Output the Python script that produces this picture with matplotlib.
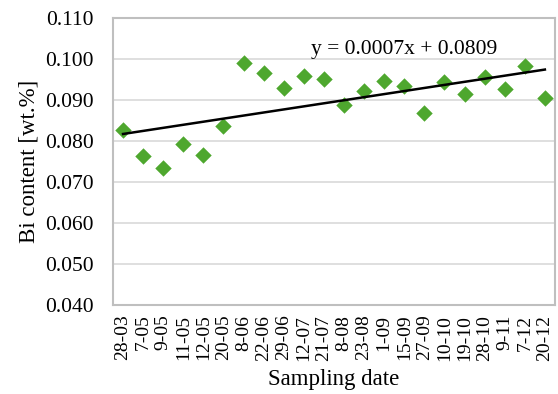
import matplotlib.pyplot as plt
import numpy as np

dates = ['28-03', '7-05', '9-05', '11-05', '12-05', '20-05', '8-06', '22-06',
         '29-06', '12-07', '21-07', '8-08', '23-08', '1-09', '15-09', '27-09',
         '10-10', '19-10', '28-10', '9-11', '7-12', '20-12']
bi = [0.0826, 0.0764, 0.0734, 0.0794, 0.0767, 0.0837, 0.0990, 0.0966,
      0.0929, 0.0959, 0.0951, 0.0888, 0.0923, 0.0947, 0.0935, 0.0868,
      0.0943, 0.0915, 0.0957, 0.0927, 0.0984, 0.0905]

plt.rcParams['font.family'] = 'Liberation Serif'

fig = plt.figure(figsize=(5.58, 3.94), dpi=100)
ax = fig.add_axes([0.2025, 0.226, 0.792, 0.728])

x = np.arange(1, len(dates) + 1)
ax.scatter(x, bi, marker='D', s=70, color='#4ea72e', zorder=3, linewidths=0)

# linear trendline
k, b = np.polyfit(x, bi, 1)
ax.plot([x[0], x[-1]], [k * x[0] + b, k * x[-1] + b], color='black', lw=1.8, zorder=4)
ax.text(15.0, 0.1000, 'y = 0.0007x + 0.0809', fontsize=15.5, ha='center', va='bottom')

ax.set_xlim(0.5, len(dates) + 0.5)
ax.set_ylim(0.040, 0.110)
ax.set_yticks(np.arange(0.040, 0.1101, 0.010))
ax.set_yticklabels(['%.3f' % v for v in np.arange(0.040, 0.1101, 0.010)], fontsize=15.5)
ax.set_xticks(x)
ax.set_xticklabels(dates, rotation=90, fontsize=14)
ax.tick_params(axis='y', length=0, pad=14)
ax.tick_params(axis='x', length=0, pad=7)

ax.grid(axis='y', color='#d9d9d9', lw=1.2)
ax.set_axisbelow(True)
for s in ax.spines.values():
    s.set_color('#bfbfbf')
    s.set_linewidth(1.5)

ax.set_xlabel('Sampling date', fontsize=16.5, labelpad=6)
ax.set_ylabel('Bi content [wt.%]', fontsize=16.5, labelpad=4)

fig.savefig('out.png', dpi=100)
